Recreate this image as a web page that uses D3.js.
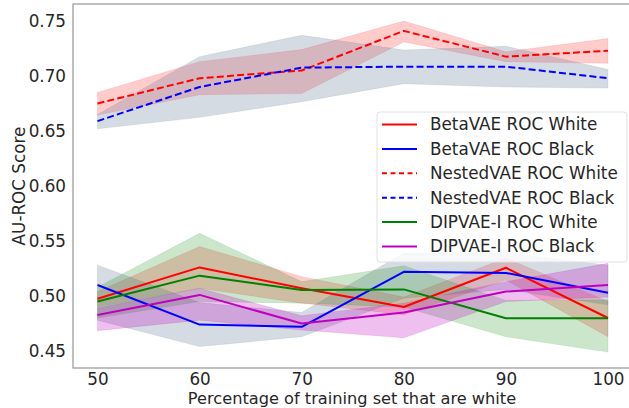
<!DOCTYPE html>
<html><head><meta charset="utf-8">
<script src="https://cdn.jsdelivr.net/npm/d3@7"></script>
<style>body{margin:0;background:#fff}svg{display:block;font-family:"DejaVu Sans",sans-serif}</style>
</head><body><svg id="c" width="629" height="408"></svg>
<script>
const xValues = [50, 60, 70, 80, 90, 100];
const xTicks = [50, 60, 70, 80, 90, 100];
const yTicks = [0.45, 0.50, 0.55, 0.60, 0.65, 0.70, 0.75];

const betaWhite   = [0.4975, 0.526, 0.507, 0.490, 0.5257, 0.480];
const betaWhiteLo = [0.490, 0.507, 0.4935, 0.483, 0.5145, 0.463];
const betaWhiteHi = [0.504, 0.545, 0.5176, 0.499, 0.5345, 0.495];

const betaBlack   = [0.510, 0.474, 0.472, 0.522, 0.521, 0.503];
const betaBlackLo = [0.478, 0.454, 0.463, 0.498, 0.506, 0.492];
const betaBlackHi = [0.528, 0.494, 0.485, 0.539, 0.539, 0.528];

const nestedWhite   = [0.675, 0.698, 0.705, 0.741, 0.7176, 0.723];
const nestedWhiteLo = [0.6645, 0.683, 0.684, 0.731, 0.713, 0.7115];
const nestedWhiteHi = [0.685, 0.713, 0.724, 0.750, 0.722, 0.734];

const nestedBlack   = [0.659, 0.690, 0.7076, 0.7085, 0.7085, 0.698];
const nestedBlackLo = [0.652, 0.6624, 0.6766, 0.693, 0.690, 0.689];
const nestedBlackHi = [0.665, 0.7176, 0.737, 0.7236, 0.727, 0.706];

const dipWhite   = [0.495, 0.5185, 0.5055, 0.506, 0.4797, 0.4797];
const dipWhiteLo = [0.480, 0.495, 0.4935, 0.490, 0.463, 0.449];
const dipWhiteHi = [0.508, 0.557, 0.513, 0.5275, 0.496, 0.4965];

const dipBlack   = [0.4827, 0.501, 0.475, 0.485, 0.504, 0.510];
const dipBlackLo = [0.4685, 0.478, 0.469, 0.462, 0.495, 0.499];
const dipBlackHi = [0.489, 0.507, 0.482, 0.4935, 0.513, 0.5297];

const seriesNames = ["BetaVAE ROC White","BetaVAE ROC Black","NestedVAE ROC White","NestedVAE ROC Black","DIPVAE-I ROC White","DIPVAE-I ROC Black"];

const series = [
  {name: seriesNames[0], v: betaWhite, lo: betaWhiteLo, hi: betaWhiteHi, color: "#ff0000", fill: "rgba(255,0,0,0.2)", dash: null},
  {name: seriesNames[1], v: betaBlack, lo: betaBlackLo, hi: betaBlackHi, color: "#0000ff", fill: "rgba(100,122,150,0.27)", dash: null},
  {name: seriesNames[2], v: nestedWhite, lo: nestedWhiteLo, hi: nestedWhiteHi, color: "#ff0000", fill: "rgba(255,0,0,0.2)", dash: "7,3.2"},
  {name: seriesNames[3], v: nestedBlack, lo: nestedBlackLo, hi: nestedBlackHi, color: "#0000ff", fill: "rgba(100,122,150,0.27)", dash: "7,3.2"},
  {name: seriesNames[4], v: dipWhite, lo: dipWhiteLo, hi: dipWhiteHi, color: "#008000", fill: "rgba(0,128,0,0.2)", dash: null},
  {name: seriesNames[5], v: dipBlack, lo: dipBlackLo, hi: dipBlackHi, color: "#bf00bf", fill: "rgba(191,0,191,0.25)", dash: null}
];

const svg = d3.select("#c");
const mLeft = 73, mTop = 4, mBottom = 368, mRight = 640;
const x = d3.scaleLinear().domain([50, 100]).range([97.5, 608]);
const y = d3.scaleLinear().domain([0.45, 0.75]).range([351, 21]);
const textColor = "#262626";
const fs = "16.8px";

// bands
const area = d3.area().x((d,i)=>x(xValues[i])).y0(d=>y(d[0])).y1(d=>y(d[1]));
series.forEach(s=>{
  svg.append("path").datum(s.lo.map((l,i)=>[l, s.hi[i]]))
    .attr("d", area).attr("fill", s.fill).attr("stroke", s.fill).attr("stroke-width", 0.5);
});
// lines
const line = d3.line().x((d,i)=>x(xValues[i])).y(d=>y(d));
series.forEach(s=>{
  svg.append("path").datum(s.v).attr("d", line).attr("fill","none")
    .attr("stroke", s.color).attr("stroke-width", 2)
    .attr("stroke-dasharray", s.dash).attr("stroke-linejoin","round");
});

// frame
svg.append("rect").attr("x", mLeft).attr("y", mTop).attr("width", mRight-mLeft).attr("height", mBottom-mTop)
  .attr("fill","none").attr("stroke","#999").attr("stroke-width",1.25);

// axes (no tick marks)
const xAxis = svg.append("g").attr("transform", `translate(0,${mBottom})`)
  .call(d3.axisBottom(x).tickValues(xTicks).tickSize(0).tickPadding(5).tickFormat(d3.format("d")));
const yAxis = svg.append("g").attr("transform", `translate(${mLeft},0)`)
  .call(d3.axisLeft(y).tickValues(yTicks).tickSize(0).tickPadding(7).tickFormat(d3.format(".2f")));
[xAxis, yAxis].forEach(g=>{
  g.select(".domain").remove();
  g.selectAll("text").attr("fill", textColor).style("font-size",fs).style("font-family","DejaVu Sans");
});

// axis labels
svg.append("text").attr("x", 352).attr("y", 404).attr("text-anchor","middle")
  .attr("fill", textColor).style("font-size","16.2px").text("Percentage of training set that are white");
svg.append("text").attr("transform", `translate(25,${(mTop+mBottom)/2}) rotate(-90)`).attr("text-anchor","middle")
  .attr("fill", textColor).style("font-size",fs).text("AU-ROC Score");

// legend
const lg = svg.append("g");
lg.append("rect").attr("x", 377).attr("y", 112).attr("width", 250).attr("height", 150).attr("rx", 3)
  .attr("fill","rgba(255,255,255,0.8)").attr("stroke","#e0e0e0").attr("stroke-width",1);
series.forEach((s,i)=>{
  const yy = 124.5 + i*24.4;
  lg.append("line").attr("x1",382).attr("x2",417).attr("y1",yy).attr("y2",yy)
    .attr("stroke", s.color).attr("stroke-width",2).attr("stroke-dasharray", s.dash ? "5,3.5" : null);
  lg.append("text").attr("x",430).attr("y",yy).attr("dy","0.35em").attr("fill", textColor)
    .style("font-size",fs).text(s.name);
});
</script></body></html>
